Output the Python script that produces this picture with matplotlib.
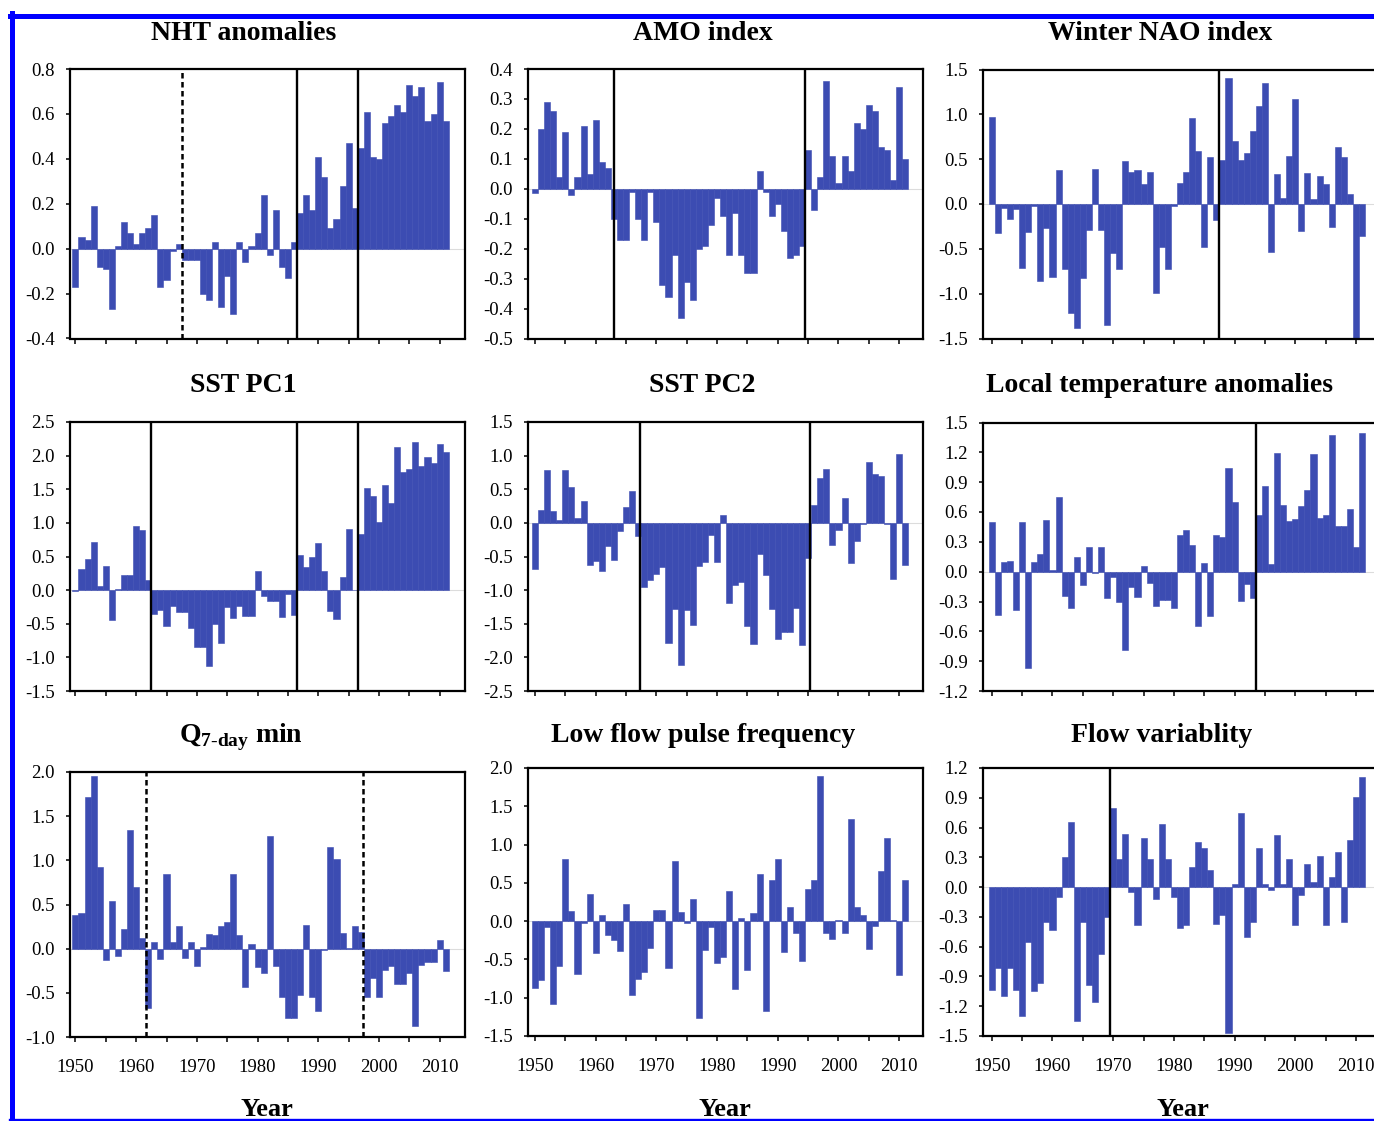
import numpy as np
import matplotlib
matplotlib.use('Agg')
import matplotlib.pyplot as plt
from matplotlib.lines import Line2D

# Times-like serif everywhere, hyphen minus on ticks
plt.rcParams['font.family'] = 'Liberation Serif'
plt.rcParams['mathtext.fontset'] = 'custom'
plt.rcParams['mathtext.rm'] = 'Liberation Serif'
plt.rcParams['mathtext.bf'] = 'Liberation Serif:bold'
plt.rcParams['axes.unicode_minus'] = False

years = np.arange(1950, 2012)

# values, one per year 1950-2011
nht = [-0.17, 0.05, 0.04, 0.19, -0.08, -0.09, -0.27, 0.01, 0.12, 0.07,
       0.02, 0.07, 0.09, 0.15, -0.17, -0.14, -0.01, 0.02, -0.05, -0.05,
       -0.05, -0.20, -0.23, 0.03, -0.26, -0.12, -0.29, 0.03, -0.06, 0.01,
       0.07, 0.24, -0.03, 0.17, -0.08, -0.13, 0.03, 0.16, 0.24, 0.17,
       0.41, 0.32, 0.09, 0.13, 0.28, 0.47, 0.18, 0.45, 0.61, 0.41,
       0.40, 0.56, 0.59, 0.64, 0.61, 0.73, 0.68, 0.72, 0.57, 0.60,
       0.74, 0.57]

amo = [-0.015, 0.20, 0.29, 0.26, 0.04, 0.19, -0.02, 0.04, 0.21, 0.05,
       0.23, 0.09, 0.07, -0.10, -0.17, -0.17, -0.01, -0.10, -0.17, -0.01,
       -0.11, -0.32, -0.36, -0.22, -0.43, -0.31, -0.37, -0.20, -0.19, -0.12,
       -0.03, -0.09, -0.22, -0.08, -0.22, -0.28, -0.28, 0.06, -0.01, -0.09,
       -0.05, -0.14, -0.23, -0.22, -0.19, 0.13, -0.07, 0.04, 0.36, 0.11,
       0.02, 0.11, 0.06, 0.22, 0.20, 0.28, 0.26, 0.14, 0.13, 0.03,
       0.34, 0.10]

nao = [0.97, -0.32, -0.05, -0.17, -0.06, -0.71, -0.31, -0.02, -0.86, -0.27,
       -0.81, 0.38, -0.72, -1.22, -1.38, -0.83, -0.29, 0.39, -0.29, -1.35,
       -0.55, -0.73, 0.48, 0.36, 0.38, 0.22, 0.36, -0.99, -0.48, -0.72,
       -0.02, 0.23, 0.36, 0.96, 0.59, -0.48, 0.52, -0.18, 0.49, 1.41,
       0.70, 0.49, 0.57, 0.81, 1.09, 1.35, -0.54, 0.33, 0.07, 0.54,
       1.17, -0.30, 0.35, 0.06, 0.31, 0.22, -0.26, 0.64, 0.52, 0.11,
       -1.60, -0.36]

sst_pc1 = [-0.02, 0.32, 0.46, 0.72, 0.06, 0.36, -0.45, 0.02, 0.23, 0.23,
           0.95, 0.90, 0.15, -0.35, -0.30, -0.54, -0.24, -0.33, -0.33, -0.57,
           -0.84, -0.84, -1.13, -0.50, -0.79, -0.25, -0.42, -0.24, -0.39, -0.39,
           0.29, -0.09, -0.16, -0.16, -0.40, -0.06, -0.37, 0.52, 0.35, 0.49,
           0.70, 0.29, -0.31, -0.43, 0.19, 0.91, 0.00, 0.84, 1.52, 1.40,
           1.02, 1.57, 1.30, 2.13, 1.75, 1.80, 2.20, 1.84, 1.98, 1.89,
           2.17, 2.05]

sst_pc2 = [-0.68, 0.19, 0.79, 0.17, 0.05, 0.79, 0.54, 0.07, 0.33, -0.63,
           -0.57, -0.72, -0.35, -0.55, -0.12, 0.24, 0.48, -0.20, -0.95, -0.85,
           -0.76, -0.66, -1.79, -1.28, -2.12, -1.30, -1.52, -0.64, -0.58, -0.18,
           -0.58, 0.11, -1.19, -0.93, -0.88, -1.53, -1.80, -0.47, -0.78, -1.28,
           -1.72, -1.62, -1.62, -1.27, -1.82, -0.52, 0.27, 0.66, 0.80, -0.33,
           -0.10, 0.37, -0.60, -0.27, -0.02, 0.90, 0.72, 0.69, -0.02, -0.84,
           1.02, -0.62]

local_temp = [0.50, -0.44, 0.10, 0.11, -0.39, 0.50, -0.97, 0.10, 0.18, 0.52,
              0.02, 0.75, -0.24, -0.37, 0.15, -0.13, 0.25, -0.01, 0.25, -0.26,
              -0.05, -0.30, -0.79, -0.15, -0.25, 0.06, -0.11, -0.35, -0.28, -0.28,
              -0.37, 0.37, 0.42, 0.27, -0.55, 0.09, -0.45, 0.37, 0.35, 1.04,
              0.70, -0.29, -0.12, -0.26, 0.57, 0.86, 0.08, 1.19, 0.67, 0.51,
              0.53, 0.66, 0.82, 1.18, 0.54, 0.57, 1.37, 0.46, 0.46, 0.63,
              0.25, 1.39]

q7_min = [0.38, 0.40, 1.72, 1.95, 0.93, -0.13, 0.54, -0.08, 0.22, 1.34,
          0.70, 0.12, -0.67, 0.07, -0.12, 0.84, 0.08, 0.26, -0.10, 0.07,
          -0.20, 0.02, 0.17, 0.15, 0.26, 0.30, 0.84, 0.15, -0.43, 0.05,
          -0.21, -0.28, 1.27, -0.20, -0.55, -0.78, -0.78, -0.52, 0.27, -0.55,
          -0.70, -0.01, 1.15, 1.01, 0.18, 0.01, 0.26, 0.19, -0.55, -0.33,
          -0.55, -0.24, -0.20, -0.40, -0.40, -0.28, -0.88, -0.18, -0.15, -0.15,
          0.10, -0.25]

low_flow = [-0.87, -0.77, -0.08, -1.08, -0.58, 0.81, 0.13, -0.69, -0.02, 0.36,
            -0.42, 0.08, -0.18, -0.24, -0.39, 0.22, -0.97, -0.76, -0.67, -0.35,
            0.14, 0.14, -0.61, 0.79, 0.12, -0.02, 0.29, -1.27, -0.38, -0.08,
            -0.55, -0.47, 0.40, -0.88, 0.04, -0.64, 0.10, 0.61, -1.18, 0.54,
            0.81, -0.40, 0.19, -0.15, -0.52, 0.42, 0.54, 1.90, -0.16, -0.23,
            0.02, -0.15, 1.33, 0.18, 0.08, -0.36, -0.06, 0.66, 1.08, 0.02,
            -0.70, 0.54]

flow_var = [-1.04, -0.81, -1.10, -0.81, -1.04, -1.30, -0.55, -1.05, -0.97, -0.35,
            -0.43, -0.10, 0.30, 0.66, -1.35, -0.35, -0.99, -1.16, -0.67, -0.30,
            0.80, 0.28, 0.54, -0.05, -0.38, 0.49, 0.28, -0.12, 0.64, 0.28,
            -0.10, -0.41, -0.38, 0.20, 0.45, 0.39, 0.17, -0.37, -0.28, -1.47,
            0.03, 0.75, -0.50, -0.35, 0.39, 0.03, -0.03, 0.52, 0.03, 0.28,
            -0.38, -0.08, 0.23, 0.05, 0.31, -0.38, 0.10, 0.35, -0.35, 0.47,
            0.91, 1.11]

titles = ['NHT anomalies', 'AMO index', 'Winter NAO index',
          'SST PC1', 'SST PC2', 'Local temperature anomalies',
          r'Q$_{\mathbf{7\text{-}day}}$ min', 'Low flow pulse frequency', 'Flow variablity']

# change-point years (solid / dashed vertical lines)
solid_breaks = [[1986.45, 1996.6], [1963.1, 1994.5], [1987.5],
                [1962.4, 1986.45, 1996.6], [1967.3, 1995.35], [1993.6],
                [], [], [1969.5]]
dashed_breaks = [[1967.5], [], [], [], [], [], [1961.6, 1997.4], [], []]

y_ranges = [(-0.4, 0.8, 0.2), (-0.5, 0.4, 0.1), (-1.5, 1.5, 0.5),
            (-1.5, 2.5, 0.5), (-2.5, 1.5, 0.5), (-1.2, 1.5, 0.3),
            (-1.0, 2.0, 0.5), (-1.5, 2.0, 0.5), (-1.5, 1.2, 0.3)]

series = [nht, amo, nao, sst_pc1, sst_pc2, local_temp, q7_min, low_flow, flow_var]

# layout in pixels of the 1374x1121 canvas
W, H = 1374, 1121
col_left = [70, 528, 983.3]
col_x0 = [1949.1, 1948.85, 1948.6]
ax_w = 395
row_top = [[69, 69, 69.5], [422, 422, 422.5], [772, 768, 768]]
row_bot = [[338.5, 338.5, 338.5], [691, 691, 691], [1037, 1036, 1036]]
title_x = [[244, 703, 1160], [243, 702, 1160], [241, 703, 1162]]
title_base = [40, 392, 742]
year_x = [267, 725, 1183]

BAR = '#3c4cb2'
px_per_year = 6.07

fig = plt.figure(figsize=(13.74, 11.21), dpi=100)

for k, vals in enumerate(series):
    r, c = divmod(k, 3)
    left, top, bot = col_left[c], row_top[r][c], row_bot[r][c]
    ax = fig.add_axes([left / W, 1 - bot / H, ax_w / W, (bot - top) / H])

    ax.bar(years, vals, width=1.0, color=BAR, edgecolor=BAR, linewidth=0.4, zorder=2)
    ax.axhline(0, color='#dcdcdc', lw=0.8, zorder=1)

    for xb in solid_breaks[k]:
        ax.axvline(xb, color='k', lw=1.7, zorder=3)
    for xb in dashed_breaks[k]:
        ax.axvline(xb, color='k', lw=1.8, linestyle=(0, (2.2, 1.4)), zorder=3)

    x0 = col_x0[c]
    ax.set_xlim(x0, x0 + ax_w / px_per_year)
    ymin, ymax, step = y_ranges[k]
    ax.set_ylim(ymin, ymax)
    yt = np.round(np.arange(ymin, ymax + step / 2, step), 2) + 0.0
    ax.set_yticks(yt)
    ax.set_yticklabels([f'{t:.1f}' for t in yt])

    xt = np.arange(1950, 2011, 5)
    ax.set_xticks(xt)
    if r == 2:
        ax.set_xticklabels([str(t) if t % 10 == 0 else '' for t in xt])
    else:
        ax.set_xticklabels([])

    ax.tick_params(axis='x', direction='out', length=3.6, width=1.1, pad=12.5, labelsize=13.5)
    ax.tick_params(axis='y', direction='out', length=3, width=1.1, pad=8, labelsize=13.5)
    for s in ax.spines.values():
        s.set_linewidth(1.6)

    fig.text(title_x[r][c] / W, 1 - title_base[r] / H, titles[k], ha='center', va='baseline',
             fontsize=20, fontweight='bold')

for x in year_x:
    fig.text(x / W, 1 - 1116 / H, 'Year', ha='center', va='baseline', fontsize=19, fontweight='bold')

# blue frame around the figure
def frame_line(xs, ys, lw):
    fig.add_artist(Line2D([v / W for v in xs], [1 - v / H for v in ys], color='#0000ff',
                          lw=lw, transform=fig.transFigure, zorder=10))

frame_line([10, W], [15.8, 15.8], 3.6)
frame_line([12.5, 12.5], [13.3, H], 3.6)
frame_line([10, W], [1119.5, 1119.5], 1.7)

fig.savefig('out.png', dpi=100)
